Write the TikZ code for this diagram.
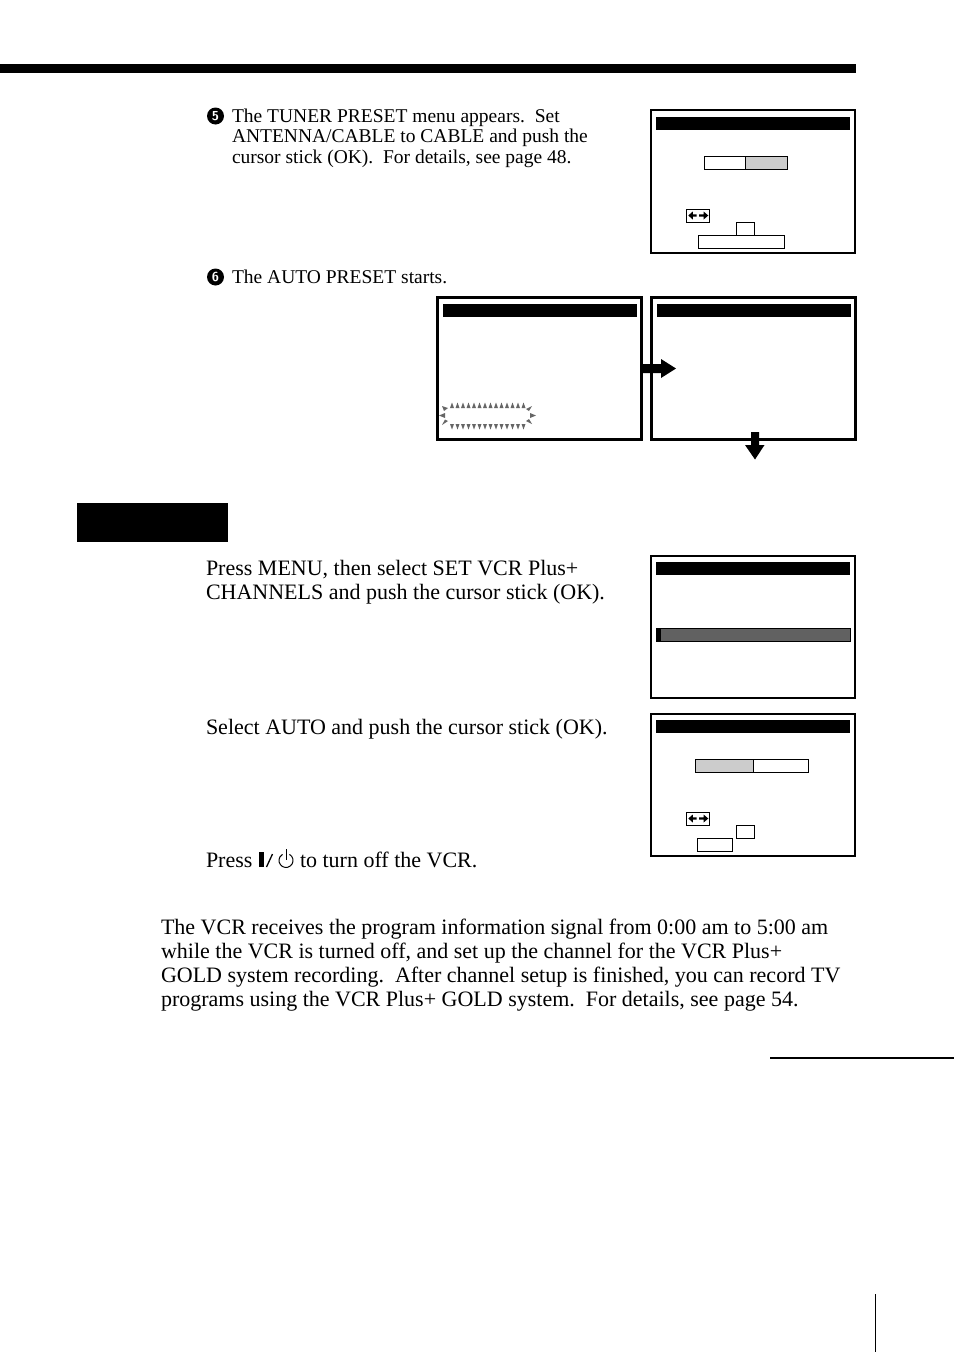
\documentclass[tikz,border=0pt]{standalone}
\usepackage{fontspec}
\setmainfont{Liberation Serif}
\usetikzlibrary{shapes.geometric}
\tikzset{
  font={\fontsize{22pt}{24pt}\selectfont},
  every node/.style={inner sep=0pt,outer sep=0pt},
  screenbox/.style={draw=black,line width=2.5pt,fill=white},
  widescreen/.style={draw=black,line width=3pt,fill=white},
  titlebar/.style={fill=black},
  fieldbox/.style={draw=black,line width=1pt,fill=white},
  greybox/.style={draw=black,line width=1pt,fill=black!20},
  bodytext/.style={anchor=base west,align=left},
  smalltext/.style={anchor=base west,align=left,font={\fontsize{19.5pt}{20.5pt}\selectfont}},
  stepmark/.style={circle,fill=black,text=white,minimum size=17pt,font={\fontsize{13pt}{13pt}\sffamily\bfseries\selectfont}},
  sparkle/.style={fill=black!60}
}

\begin{document}
\begin{tikzpicture}[x=1pt,y=-1pt]
\useasboundingbox (0,0) rectangle (954,1352);
\fill [white] (0,0) rectangle (954,1352);
\fill [black] (0,64) rectangle (856,73);
% step 5
\node [stepmark] (markfive) at (215.5,116) {5};
\node [smalltext] (textfive) at (232,163) {The TUNER PRESET menu appears.\ \ Set\\ANTENNA/CABLE to CABLE and push the\\cursor stick (OK).\ \ For details, see page 48.};
\node [stepmark] (marksix) at (215.5,277) {6};
\node [smalltext] (textsix) at (232,283) {The AUTO PRESET starts.};
% tuner preset screen
\draw [screenbox] (651,110) rectangle (855,253);
\fill [titlebar] (656,117) rectangle (850,130);
\draw [fieldbox] (704,156) rectangle (745.5,169.5);
\draw [greybox] (745.5,156) rectangle (787,169.5);
\draw [fieldbox] (686.5,209) rectangle (709.5,222);
\draw [fieldbox] (736.5,222) rectangle (754.5,235);
\draw [fieldbox] (698.5,235) rectangle (784.5,248);
% auto preset screens
\draw [widescreen] (437.5,297.5) rectangle (641.5,439.5);
\fill [titlebar] (443,304) rectangle (637,317);
\foreach \i in {0,...,13} {
  \fill [sparkle] (452+5.5*\i-2,408) -- (452+5.5*\i+2,408) -- (452+5.5*\i,402.5) -- cycle;
  \fill [sparkle] (452+5.5*\i-2,424) -- (452+5.5*\i+2,424) -- (452+5.5*\i,429.5) -- cycle;
}
\fill [sparkle] (442,406) -- (448,408) -- (444,411) -- cycle;
\fill [sparkle] (532,406) -- (526,409) -- (529,411) -- cycle;
\fill [sparkle] (439,415.5) -- (445,413) -- (445,418) -- cycle;
\fill [sparkle] (536,415.5) -- (530,413) -- (530,418) -- cycle;
\fill [sparkle] (442,425) -- (448,421) -- (445,419.5) -- cycle;
\fill [sparkle] (532,424) -- (526,421) -- (529,419) -- cycle;
\draw [widescreen] (651.5,297.5) rectangle (855.5,439.5);
\fill [titlebar] (657,304) rectangle (851,317);
\fill [black] (642,364) -- (661,364) -- (661,359) -- (676,368.5) -- (661,378) -- (661,373) -- (642,373) -- cycle;
\fill [black] (751,432) -- (759,432) -- (759,445) -- (764.5,445) -- (755,459.5) -- (745,445) -- (751,445) -- cycle;
% heading block
\fill [black] (77,503) rectangle (228,542);
% channel setup
\node [bodytext] (textmenu) at (206,599) {Press MENU, then select SET VCR Plus+\\CHANNELS and push the cursor stick (OK).};
\draw [screenbox] (651,556) rectangle (855,698);
\fill [titlebar] (656,562) rectangle (850,575);
\draw [line width=1pt,fill=black!62] (656.5,628.5) rectangle (850.5,641.5);
\fill [black] (656,628) rectangle (661,642);
\node [bodytext] (textauto) at (206,734) {Select AUTO and push the cursor stick (OK).};
\draw [screenbox] (651,714) rectangle (855,856);
\fill [titlebar] (656,720) rectangle (850,733);
\draw [greybox] (695.5,759) rectangle (753.5,772.5);
\draw [fieldbox] (753.5,759) rectangle (808.5,772.5);
\draw [fieldbox] (686.5,812) rectangle (709.5,825);
\draw [fieldbox] (736.5,825) rectangle (754.5,838);
\draw [fieldbox] (697.5,838) rectangle (732.5,851);
% double arrows of both tuner screens
\foreach \y in {215.5,818.5} {
  \fill [black] (688.3,\y) -- (692.8,\y-4) -- (692.8,\y-1.2) -- (696.5,\y-1.2) -- (696.5,\y+1.2) -- (692.8,\y+1.2) -- (692.8,\y+4) -- cycle;
  \fill [black] (708.3,\y) -- (703.6,\y-4) -- (703.6,\y-1.2) -- (699,\y-1.2) -- (699,\y+1.2) -- (703.6,\y+1.2) -- (703.6,\y+4) -- cycle;
}
\node [bodytext] (textpress) at (206,867) {Press};
\fill [black] (258.5,852) rectangle (263.5,867);
\draw [line width=1.3pt] (266.5,867) -- (272.5,854);
\draw [line width=1pt] (289.5,854.4) arc (-60:240:7);
\draw [line width=1pt] (286,849) -- (286,860);
\node [bodytext] (textoff) at (300,867) {to turn off the VCR.};
\node [bodytext] (textnote) at (161,1006) {The VCR receives the program information signal from 0:00 am to 5:00 am\\while the VCR is turned off, and set up the channel for the VCR Plus+\\GOLD system recording.\ \ After channel setup is finished, you can record TV\\programs using the VCR Plus+ GOLD system.\ \ For details, see page 54.};
\draw [line width=2pt] (770,1057.5) -- (954,1057.5);
\draw [line width=1.2pt] (875.5,1294) -- (875.5,1352);
\end{tikzpicture}
\end{document}
